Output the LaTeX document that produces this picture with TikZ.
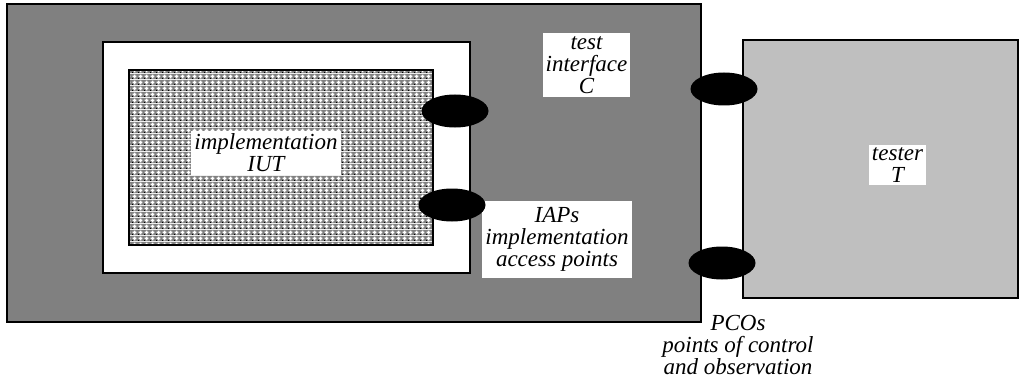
\documentclass[tikz,border=0pt]{standalone}
\usepackage{fontspec}
\setmainfont{Liberation Serif}
\usetikzlibrary{shapes.geometric,patterns}

\pgfdeclarepatterninherentlycolored{iutgrid}{\pgfpointorigin}{\pgfqpoint{3pt}{3pt}}{\pgfqpoint{3pt}{3pt}}{%
	\pgfsetfillcolor{black!50}
	\pgfpathrectangle{\pgfpointorigin}{\pgfqpoint{3pt}{3pt}}\pgfusepath{fill}
	\pgfsetfillcolor{white}
	\pgfpathrectangle{\pgfqpoint{1.1pt}{0.4pt}}{\pgfqpoint{0.8pt}{2.2pt}}\pgfusepath{fill}
	\pgfpathrectangle{\pgfqpoint{0.4pt}{1.1pt}}{\pgfqpoint{2.2pt}{0.8pt}}\pgfusepath{fill}
	\pgfsetfillcolor{black}
	\pgfpathrectangle{\pgfpointorigin}{\pgfqpoint{0.6pt}{0.6pt}}\pgfusepath{fill}
}

\begin{document}
\begin{tikzpicture}
	[x=0.5pt,y=-0.5pt,font=\fontsize{11.5}{11}\selectfont\itshape]
	\tikzstyle{box}=[draw,line width=1pt,inner sep=0pt]
	\tikzstyle{port}=[ellipse,fill=black,inner sep=0pt,minimum width=33.5pt,minimum height=16.5pt]
	\tikzstyle{note}=[fill=white,align=center,inner sep=1.5pt]

	\useasboundingbox (0,0) rectangle (1021,385);

	% context and implementation
	\node[box,fill=black!50,minimum width=347pt,minimum height=159pt] (C) at (354,163) {};
	\node[box,fill=white,minimum width=183.5pt,minimum height=115.5pt] (frame) at (286.5,157.5) {};
	\node[box,pattern=iutgrid,minimum width=152pt,minimum height=87.5pt] (IUT) at (281,157.5) {};
	\node[box,fill=black!25,minimum width=137.5pt,minimum height=129pt] (T) at (880.5,169) {};

	% texts
	\node[note] (iutText) at (266,153) {implementation\\IUT};
	\node[note] (cText) at (586.5,65) {test\\interface\\C};
	\node[note,inner ysep=3pt] (iapText) at (557,239.5) {IAPs\\implementation\\access points};
	\node[note] (tText) at (897.5,165) {tester\\T};
	\node[align=center,inner sep=0pt] (pcoText) at (738,345) {PCOs\\points of control\\and observation};

	% access points
	\node[port] (IAP1) at (455,111) {};
	\node[port] (IAP2) at (452,205) {};
	\node[port] (PCO1) at (724,89) {};
	\node[port] (PCO2) at (722,263) {};
\end{tikzpicture}
\end{document}
